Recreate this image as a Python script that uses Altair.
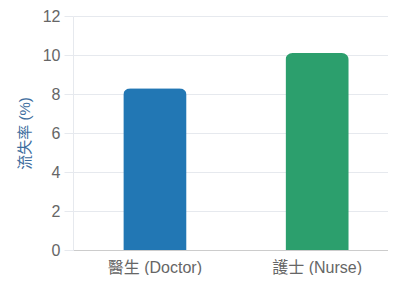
import altair as alt
import pandas as pd

categories = ["醫生 (Doctor)", "護士 (Nurse)"]
values = [8.3, 10.1]
colors = ["#2277b4", "#2c9f6d"]
y_ticks = [0, 2, 4, 6, 8, 10, 12]

df = pd.DataFrame({"cat": categories, "val": values, "color": colors})

FONT = "Liberation Sans, Arial, Noto Sans CJK TC, sans-serif"

chart = alt.Chart(df).mark_bar(
    cornerRadiusTopLeft=7, cornerRadiusTopRight=7
).encode(
    x=alt.X("cat:N", sort=categories, title=None,
            scale=alt.Scale(paddingInner=0.61, paddingOuter=0.31, range=[0, 326]),
            axis=alt.Axis(labelAngle=0, ticks=False, grid=False, labelPadding=9,
                          labelFontSize=16, labelColor="#666666", labelFont=FONT,
                          domainColor="#cccccc")),
    y=alt.Y("val:Q", title="流失率 (%)",
            scale=alt.Scale(domain=[0, 12]),
            axis=alt.Axis(values=y_ticks, ticks=True, tickSize=9, tickColor="#e6e9ee",
                          labelPadding=4,
                          labelFontSize=16, labelColor="#666666", labelFont=FONT,
                          titleFont=FONT, titleFontSize=15, titleFontWeight="normal",
                          titleColor="#3d6d9e", titlePadding=10,
                          gridColor="#e6e9ee", domain=True, domainColor="#e6e9ee")),
    color=alt.Color("color:N", scale=None),
).properties(
    width=315, height=234,
    autosize=alt.AutoSizeParams(type="none"),
    padding={"left": 65, "top": 8, "right": 0, "bottom": 25},
).configure_view(stroke=None)

chart.save("out.html", embed_options={"renderer": "svg", "actions": False})
